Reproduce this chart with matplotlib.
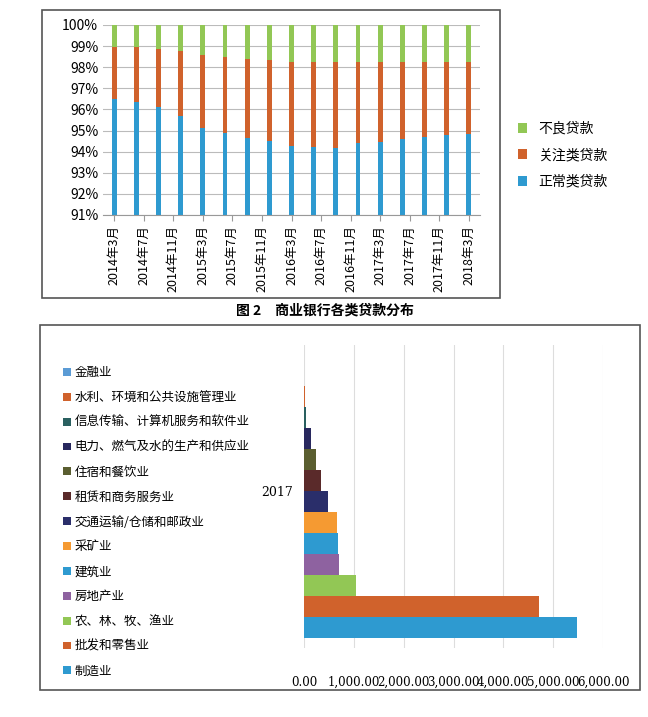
import matplotlib
matplotlib.use("Agg")
import matplotlib.pyplot as plt
from matplotlib import font_manager as fm
from matplotlib.patches import Rectangle
import numpy as np

cjk = None
for f in fm.fontManager.ttflist:
    if 'CJK' in f.name and 'SC' in f.name:
        cjk = f.name; break
if cjk is None:
    for f in fm.fontManager.ttflist:
        if 'CJK' in f.name:
            cjk = f.name; break
plt.rcParams['font.family'] = [cjk or 'Noto Sans CJK SC', 'DejaVu Sans']
plt.rcParams['axes.unicode_minus'] = False

# Top chart data
periods = list(range(17))
tick_labels = ['2014年3月','2014年7月','2014年11月','2015年3月','2015年7月','2015年11月',
               '2016年3月','2016年7月','2016年11月','2017年3月','2017年7月','2017年11月','2018年3月']
normal = [96.5, 96.35, 96.1, 95.7, 95.1, 94.9, 94.65, 94.5, 94.25, 94.2, 94.15, 94.4, 94.45, 94.6, 94.7, 94.8, 94.85]
watch_top = [98.95, 98.95, 98.85, 98.75, 98.6, 98.5, 98.4, 98.35, 98.25, 98.25, 98.25, 98.25, 98.25, 98.25, 98.25, 98.25, 98.25]

# Bottom chart data
industries = ['制造业','批发和零售业','农、林、牧、渔业','房地产业','建筑业','采矿业',
              '交通运输/仓储和邮政业','租赁和商务服务业','住宿和餐饮业','电力、燃气及水的生产和供应业',
              '信息传输、计算机服务和软件业','水利、环境和公共设施管理业','金融业']
loans = [5480, 4720, 1050, 700, 680, 660, 490, 350, 250, 150, 50, 30, 0]
ind_colors = ['#2E9AD0','#D0622C','#92C755','#8E62A0','#2E9AD0','#F59A32','#2A2E6A',
              '#5A2A2A','#5A5E30','#28285E','#2A6060','#D0622C','#5B9BD5']

fig = plt.figure(figsize=(6.48, 7.17), dpi=100)
fig.patch.set_facecolor('white')

fig.add_artist(Rectangle((42/648, 1-298/717), 458/648, 288/717, transform=fig.transFigure,
                         fill=False, edgecolor='#555555', lw=1.2))
fig.add_artist(Rectangle((40/648, 1-690/717), 600/648, 365/717, transform=fig.transFigure,
                         fill=False, edgecolor='#555555', lw=1.2))

ax = fig.add_axes([103/648, 1-215/717, 377/648, 190/717])
base = 91
blue = np.array(normal); orange = np.array(watch_top) - blue; green = 100 - np.array(watch_top)
w = 0.22
ax.bar(periods, blue - base, w, bottom=base, color='#2E9AD0', label='正常类贷款')
ax.bar(periods, orange, w, bottom=blue, color='#D0622C', label='关注类贷款')
ax.bar(periods, green, w, bottom=watch_top, color='#92C755', label='不良贷款')
ax.set_ylim(91, 100)
ax.set_xlim(-0.5, 16.5)
ax.set_yticks(range(91, 101))
ax.set_yticklabels([f'{v}%' for v in range(91, 101)], fontsize=10)
ax.set_xticks(np.linspace(0, 16, 13))
ax.set_xticklabels(tick_labels, rotation=90, fontsize=9)
ax.grid(axis='y', color='#bbbbbb', lw=0.8)
ax.set_axisbelow(True)
for s in ['top', 'right', 'left']:
    ax.spines[s].set_visible(False)
ax.spines['bottom'].set_color('#999999')
ax.tick_params(axis='y', length=0)
ax.tick_params(axis='x', length=4, color='#999999')
h, l = ax.get_legend_handles_labels()
fig.legend(h[::-1], l[::-1], loc='center left', bbox_to_anchor=(505/648, 1-155/717),
           frameon=False, fontsize=10, handlelength=0.7, handleheight=0.7, labelspacing=0.9)

fig.text(325/648, 1-311/717, '图 2　商业银行各类贷款分布', ha='center', va='center',
         fontsize=10, fontweight='bold')

ax2 = fig.add_axes([304/648, 1-648/717, 299/648, 303/717])
n = len(industries)
for i in range(n):
    ax2.barh(i, loans[i], 1.0, color=ind_colors[i], label=industries[i])
ax2.set_xlim(0, 6000)
ax2.set_ylim(-0.98, 13.45)
ax2.set_xticks(range(0, 6001, 1000))
ax2.set_xticklabels([f'{v:,.2f}' for v in range(0, 6001, 1000)], fontsize=8.5, family='DejaVu Serif')
ax2.set_yticks([6.5])
ax2.set_yticklabels(['2017'], fontsize=9, family='DejaVu Serif')
ax2.grid(axis='x', color='#dddddd', lw=0.8)
ax2.set_axisbelow(True)
for s in ax2.spines.values():
    s.set_visible(False)
ax2.tick_params(axis='x', length=0, pad=20)
ax2.tick_params(axis='y', length=0, pad=8)
h2, l2 = ax2.get_legend_handles_labels()
fig.legend(h2[::-1], l2[::-1], loc='upper left', bbox_to_anchor=(52/648, 1-355/717),
           frameon=False, fontsize=9, handlelength=0.6, handleheight=0.6, labelspacing=0.95,
           handletextpad=0.3)

fig.savefig('out.png', dpi=100)
